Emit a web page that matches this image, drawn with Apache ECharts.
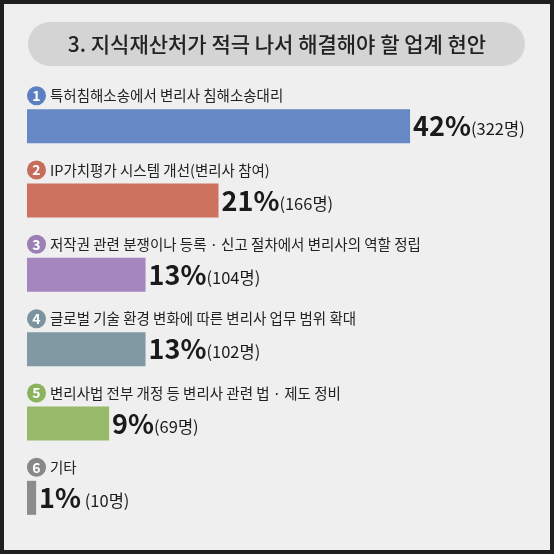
<!DOCTYPE html>
<html>
<head>
<meta charset="utf-8">
<script src="https://cdn.jsdelivr.net/npm/echarts@6/dist/echarts.min.js"></script>
<style>html,body{margin:0;padding:0;background:#1f1f1f}#chart{width:554px;height:554px}</style>
</head>
<body>
<div id="chart"></div>
<script>
const titleText = '3. 지식재산처가 적극 나서 해결해야 할 업계 현안';
const categories = [
    '특허침해소송에서 변리사 침해소송대리',
    'IP가치평가 시스템 개선(변리사 참여)',
    '저작권 관련 분쟁이나 등록 · 신고 절차에서 변리사의 역할 정립',
    '글로벌 기술 환경 변화에 따른 변리사 업무 범위 확대',
    '변리사법 전부 개정 등 변리사 관련 법 · 제도 정비',
    '기타'
];
const percents = [42, 21, 13, 13, 9, 1];
const counts = [322, 166, 104, 102, 69, 10];
const barColors = ['#6688c4', '#cd725f', '#a686bf', '#8199a3', '#96b96a', '#8c8c8c'];
const circleColors = ['#5b7fc0', '#c66c5b', '#9c80b5', '#7a939c', '#8bb25c', '#888888'];

const chart = echarts.init(document.getElementById('chart'));
const font = '"Noto Sans CJK KR", "Noto Sans", sans-serif';

const rich = {};
circleColors.forEach((c, i) => {
    rich['n' + i] = {
        backgroundColor: c, color: '#fff', width: 19, height: 19, borderRadius: 10,
        align: 'center', fontSize: 14, fontWeight: 'bold', fontFamily: font
    };
});
rich.t = { color: '#222', fontSize: 14.5, fontFamily: font, padding: [0, 0, 0, 4] };

chart.setOption({
    backgroundColor: '#1f1f1f',
    graphic: [
        { type: 'rect', shape: { x: 4, y: 4, width: 546, height: 546 }, style: { fill: '#efefef' }, z: -10 },
        { type: 'rect', shape: { x: 28, y: 22, width: 497, height: 44, r: 22 }, style: { fill: '#d4d4d4' }, z: -5 },
        { type: 'text', x: 277, y: 44, style: { text: titleText, fill: '#222', font: '500 21px ' + font, align: 'center', verticalAlign: 'middle' } }
    ],
    grid: { left: 27, right: 71, top: 89, bottom: 19 },
    xAxis: { type: 'value', min: 0, max: 50, show: false },
    yAxis: {
        type: 'category', inverse: true, data: categories,
        axisLine: { show: false }, axisTick: { show: false },
        axisLabel: {
            inside: true, margin: 0, align: 'left', verticalAlign: 'bottom',
            padding: [0, 0, 21, 0],
            formatter: (v, i) => '{n' + i + '|' + (i + 1) + '}{t|' + v + '}',
            rich: rich
        },
        z: 5
    },
    series: [{
        type: 'bar', barWidth: 34,
        data: percents.map((p, i) => ({ value: p, itemStyle: { color: barColors[i] } })),
        label: {
            show: true, position: 'right', distance: 3,
            formatter: p => '{p|' + p.value + '%}{c|' + (p.dataIndex === 5 ? ' ' : '') + '(' + counts[p.dataIndex] + '명)}',
            rich: {
                p: { fontSize: 27, fontWeight: 'bold', color: '#1a1a1a', fontFamily: font, letterSpacing: -1.5 },
                c: { fontSize: 16.5, color: '#1a1a1a', fontFamily: font, padding: [6, 0, 0, 0] }
            }
        }
    }]
});
</script>
</body>
</html>
